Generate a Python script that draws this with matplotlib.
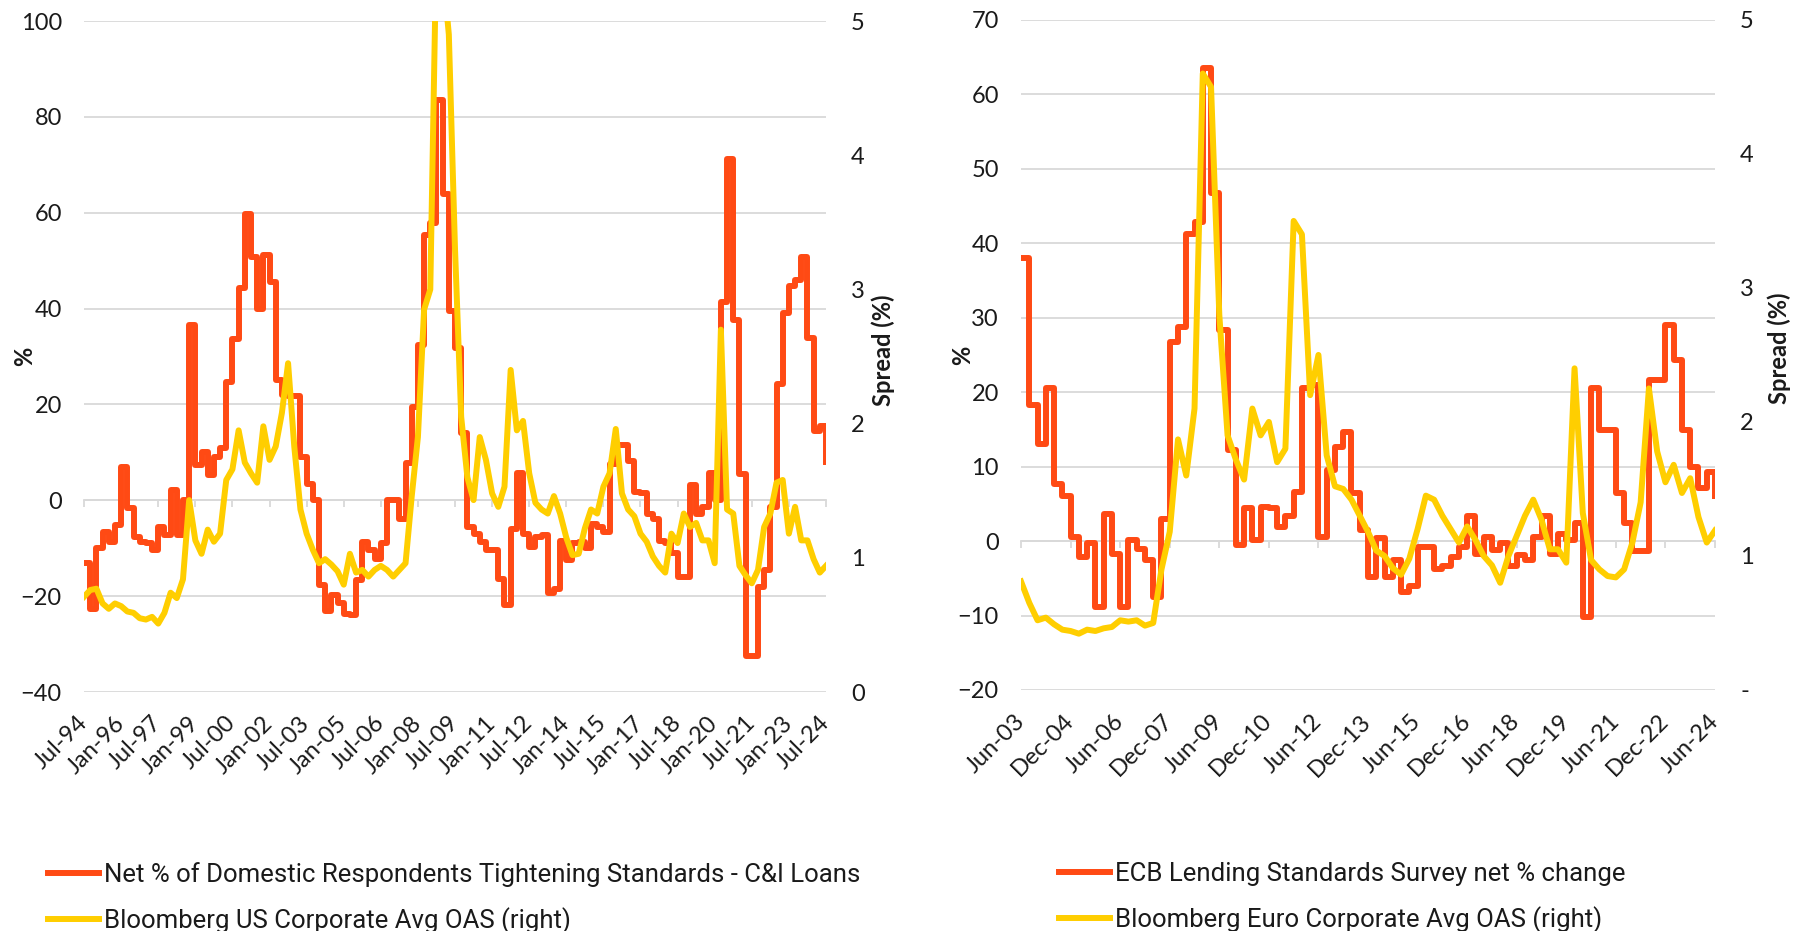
import numpy as np
import pandas as pd
import matplotlib
matplotlib.use('Agg')
import matplotlib.pyplot as plt

# US panel, quarterly from Jul-94 to Jul-24
us_tight = [-13, -22.6, -10, -6.6, -8.7, -5.2, 7, -1.7, -7.7, -8.7,
            -9, -10.4, -5.6, -7.3, 2.1, -7.3, 0, 36.5, 7.3, 10,
            5.2, 9, 11, 24.7, 33.7, 44.2, 59.8, 50.8, 40, 51.1,
            45.6, 25, 22, 21.7, 21.7, 9, 3.5, 0, -17.7, -23,
            -19.8, -21.5, -23.7, -24, -16.7, -8.7, -10.4, -12.2, -9, 0,
            0, -3.8, 7.7, 19.5, 32.4, 55.3, 57.8, 83.5, 64, 39.5,
            31.7, 14, -5.6, -7, -8.7, -10.4, -10.4, -16.4, -21.9, -5.9,
            5.6, -7, -9.7, -7.7, -7.3, -19.3, -18.5, -8.4, -12.5, -9,
            -8.6, -10, -5, -5.5, -6.7, 7.5, 11.6, 11.6, 8.3, 1.7,
            1.5, -2.8, -3.8, -8.4, -9, -11, -16, -16, 3.1, -2.8,
            -1.5, 5.6, 0, 41.4, 71.2, 37.7, 5.5, -32.5, -32.5, -18,
            -14.6, -1.5, 24.2, 39.1, 44.8, 46, 50.8, 33.9, 14.5, 15.6,
            7.9]
us_oas = [0.71, 0.76, 0.77, 0.66, 0.62, 0.66, 0.64, 0.60, 0.59, 0.55,
          0.54, 0.56, 0.51, 0.59, 0.74, 0.70, 0.84, 1.43, 1.13, 1.03,
          1.21, 1.12, 1.18, 1.58, 1.66, 1.95, 1.71, 1.63, 1.56, 1.98,
          1.73, 1.83, 2.08, 2.45, 1.83, 1.36, 1.18, 1.06, 0.96, 0.99,
          0.95, 0.90, 0.80, 1.03, 0.89, 0.91, 0.86, 0.91, 0.94, 0.91,
          0.86, 0.91, 0.96, 1.46, 1.9, 2.85, 3.0, 5.6, 5.4, 4.9,
          3.3, 2.05, 1.6, 1.43, 1.9, 1.73, 1.48, 1.38, 1.53, 2.40,
          1.95, 2.02, 1.63, 1.41, 1.36, 1.33, 1.46, 1.33, 1.15, 1.02,
          1.03, 1.22, 1.36, 1.33, 1.53, 1.63, 1.96, 1.48, 1.36, 1.31,
          1.18, 1.12, 1.01, 0.94, 0.89, 1.18, 1.11, 1.33, 1.23, 1.26,
          1.13, 1.13, 0.96, 2.7, 1.36, 1.33, 0.94, 0.87, 0.81, 0.91,
          1.23, 1.33, 1.56, 1.58, 1.18, 1.38, 1.13, 1.13, 0.99, 0.89,
          0.94]

# Euro panel, quarterly from Jun-03 to Jun-24
eu_tight = [38, 18.3, 13.1, 20.5, 7.7, 6, 0.6, -2.1, -0.3, -8.8,
            3.7, -1.7, -8.8, 0.1, -1, -2.6, -7.5, 3, 26.8, 28.8,
            41.3, 42.9, 63.5, 46.7, 28.3, 12.2, -0.5, 4.4, 0.1, 4.6,
            4.4, 1.9, 3.3, 6.6, 20.5, 21, 0.6, 9.5, 12.7, 14.7,
            6.4, 1.5, -4.8, 0.4, -4.8, -2.6, -6.8, -6.1, -0.8, -0.8,
            -3.7, -3.4, -2.1, -0.8, 3.3, -1.7, 0.6, -1.2, -0.3, -3.4,
            -1.9, -2.6, 0.6, 3.3, -1.7, 1, 0.1, 2.4, -10.2, 20.6,
            14.9, 14.9, 6.4, 2.4, -1.4, -1.4, 21.6, 21.6, 29, 24.3,
            14.9, 10, 7.1, 9.3, 6]
eu_oas = [0.81, 0.65, 0.52, 0.54, 0.49, 0.45, 0.44, 0.42, 0.45, 0.44,
          0.46, 0.47, 0.52, 0.51, 0.52, 0.48, 0.50, 0.90, 1.18, 1.87,
          1.6, 2.1, 4.6, 4.5, 2.8, 1.9, 1.72, 1.57, 2.1, 1.9,
          2.0, 1.7, 1.8, 3.5, 3.4, 2.2, 2.5, 1.75, 1.52, 1.5,
          1.42, 1.3, 1.18, 1.04, 1.0, 0.91, 0.86, 0.98, 1.2, 1.45,
          1.42, 1.3, 1.2, 1.1, 1.22, 1.12, 1.0, 0.93, 0.8, 1.0,
          1.15, 1.3, 1.42, 1.27, 1.05, 1.05, 0.95, 2.4, 1.32, 0.97,
          0.9, 0.85, 0.84, 0.9, 1.1, 1.4, 2.25, 1.78, 1.55, 1.68,
          1.47, 1.58, 1.29, 1.1, 1.19]

us_ticklabels = pd.date_range('1994-07-01', '2024-07-01', freq='18MS').strftime('%b-%y')
eu_ticklabels = pd.date_range('2003-06-01', '2024-06-01', freq='18MS').strftime('%b-%y')

RED = '#ff4a14'
YELLOW = '#ffce00'
GRID = '#d9d9d9'
TXT = '#1a1a1a'

plt.rcParams['font.family'] = ['Lato', 'DejaVu Sans']
fig = plt.figure(figsize=(17.96, 9.31), dpi=100)


def panel(rect, tight, oas, ylim, ystep, xlabels, rlabels, names, leg_xy, rlab_x, llab_x):
    x = np.arange(len(tight)) * 3  # months since start
    ax = fig.add_axes(rect)
    ax.set_xlim(x[0], x[-1])
    ax.set_ylim(*ylim)
    ax.set_yticks(np.arange(ylim[0], ylim[1] + 1, ystep))
    ax.grid(axis='y', color=GRID, lw=1.3)
    ax.set_axisbelow(True)
    for s in ax.spines.values():
        s.set_visible(False)
    ticks = np.arange(0, x[-1] + 1, 18)
    ax.set_xticks(ticks)
    ax.set_xticklabels(xlabels, rotation=45, ha='right', va='center',
                       rotation_mode='anchor')
    ax.tick_params(axis='x', length=0, pad=20, labelsize=17, labelcolor=TXT)
    ax.tick_params(axis='y', length=0, pad=16, labelsize=17, labelcolor=TXT)
    ax.set_ylabel('%', fontsize=17, fontweight='bold', color=TXT)
    ax.yaxis.set_label_coords(llab_x, 0.5)
    l1, = ax.plot(x, tight, color=RED, lw=4.3, drawstyle='steps-post')

    # category axis crossing at zero, with small tick marks
    sec = ax.secondary_xaxis((0 - ylim[0]) / (ylim[1] - ylim[0]))
    sec.set_xticks(ticks)
    sec.set_xticklabels([])
    sec.tick_params(length=5, width=1.3, color=GRID, direction='out')
    for s in sec.spines.values():
        s.set_color(GRID)
        s.set_linewidth(1.3)

    ax2 = ax.twinx()
    ax2.set_ylim(0, 5)
    ax2.set_yticks(range(6))
    ax2.set_yticklabels(rlabels)
    ax2.tick_params(axis='y', length=0, pad=18, labelsize=17, labelcolor=TXT)
    for s in ax2.spines.values():
        s.set_visible(False)
    ax2.set_ylabel('Spread (%)', fontsize=17, fontweight='bold', color=TXT)
    ax2.yaxis.set_label_coords(rlab_x, 0.51)
    l2, = ax2.plot(x, oas, color=YELLOW, lw=4.3)

    fig.legend([l1, l2], names, loc='upper left', bbox_to_anchor=leg_xy,
               frameon=False, prop={'family': ['Roboto', 'DejaVu Sans'], 'size': 18.5},
               handlelength=2.0, handletextpad=0.2, labelspacing=0.78,
               borderaxespad=0, borderpad=0, labelcolor=TXT)


panel([0.0468, 0.2567, 0.4131, 0.7207], us_tight, us_oas, (-40, 100), 20,
      us_ticklabels, ['0', '1', '2', '3', '4', '5'],
      ['Net % of Domestic Respondents Tightening Standards - C&I Loans',
       'Bloomberg US Corporate Avg OAS (right)'],
      (0.0267, 0.0740), 1.061, -0.064)

panel([0.5685, 0.2589, 0.3864, 0.7197], eu_tight, eu_oas, (-20, 70), 10,
      eu_ticklabels, ['-', '1', '2', '3', '4', '5'],
      ['ECB Lending Standards Survey net % change',
       'Bloomberg Euro Corporate Avg OAS (right)'],
      (0.5896, 0.0740), 1.076, -0.067)

fig.savefig('out.png', dpi=100)
